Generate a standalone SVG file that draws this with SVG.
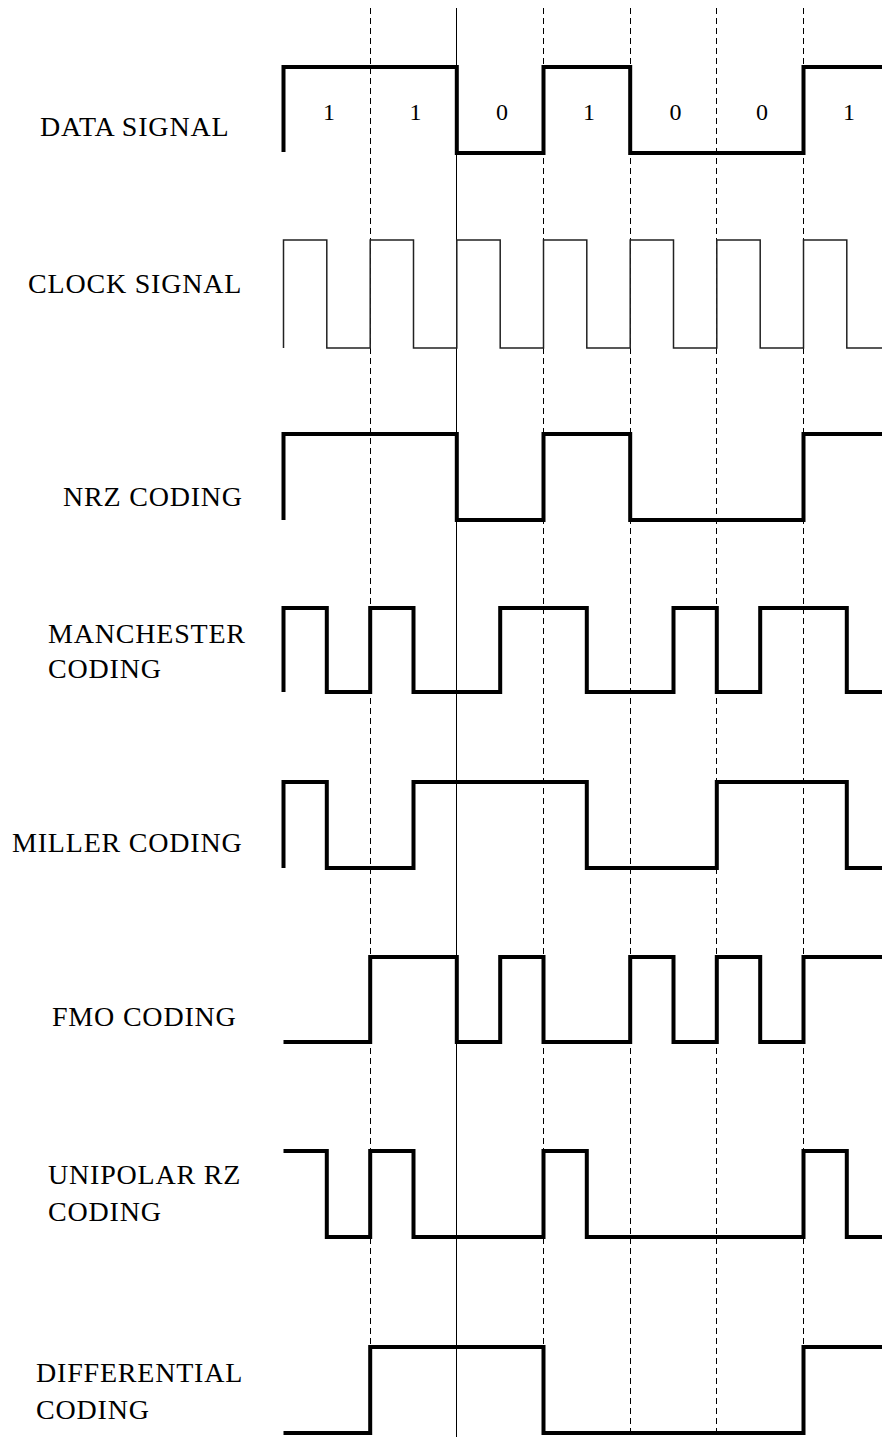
<svg xmlns="http://www.w3.org/2000/svg" width="882" height="1437" viewBox="0 0 882 1437">
<style>
.bg{fill:#ffffff}
.lbl{font-family:"Liberation Serif","Times New Roman",serif;font-size:28px;letter-spacing:0.8px;fill:#000}
.bit{font-family:"Liberation Serif","Times New Roman",serif;font-size:24px;fill:#000;text-anchor:middle}
.sig{fill:none;stroke:#000;stroke-width:4;stroke-linejoin:miter;stroke-linecap:butt}
.clk{fill:none;stroke:#222;stroke-width:1.5}
.dash{stroke:#000;stroke-width:1;stroke-dasharray:6 4}
.solid{stroke:#000;stroke-width:1}
</style>
<rect class="bg" x="0" y="0" width="882" height="1437"/>
<g id="guides">
<line class="dash" x1="370.5" y1="8" x2="370.5" y2="1437"/>
<line class="solid" x1="456.5" y1="8" x2="456.5" y2="1437"/>
<line class="dash" x1="543.5" y1="8" x2="543.5" y2="1437"/>
<line class="dash" x1="630.5" y1="8" x2="630.5" y2="1437"/>
<line class="dash" x1="716.5" y1="8" x2="716.5" y2="1437"/>
<line class="dash" x1="803.5" y1="8" x2="803.5" y2="1437"/>
</g>
<g id="data-signal">
<text class="lbl" x="40" y="136">DATA SIGNAL</text>
<path class="sig" d="M283.5,152 V67 H456.8 V153 H543.5 V67 H630.2 V153 H803.5 V67 H882"/>
<text class="bit" x="329" y="120">1</text>
<text class="bit" x="415.5" y="120">1</text>
<text class="bit" x="502" y="120">0</text>
<text class="bit" x="589" y="120">1</text>
<text class="bit" x="675.5" y="120">0</text>
<text class="bit" x="762" y="120">0</text>
<text class="bit" x="849" y="120">1</text>
</g>
<g id="clock-signal">
<text class="lbl" x="28" y="293">CLOCK SIGNAL</text>
<path class="clk" d="M283.5,348 V240 H326.8 V348 H370.2 V240 H413.5 V348 H456.8 V240 H500.2 V348 H543.5 V240 H586.8 V348 H630.2 V240 H673.5 V348 H716.8 V240 H760.2 V348 H803.5 V240 H846.8 V348 H882"/>
</g>
<g id="nrz-coding">
<text class="lbl" x="63" y="506">NRZ CODING</text>
<path class="sig" d="M283.5,520 V434 H456.8 V520 H543.5 V434 H630.2 V520 H803.5 V434 H882"/>
</g>
<g id="manchester-coding">
<text class="lbl" x="48" y="643">MANCHESTER</text>
<text class="lbl" x="48" y="678">CODING</text>
<path class="sig" d="M283.5,692 V608 H326.8 V692 H370.2 V608 H413.5 V692 H500.2 V608 H586.8 V692 H673.5 V608 H716.8 V692 H760.2 V608 H846.8 V692 H882"/>
</g>
<g id="miller-coding">
<text class="lbl" x="12" y="852">MILLER CODING</text>
<path class="sig" d="M283.5,868 V782 H326.8 V868 H413.5 V782 H586.8 V868 H716.8 V782 H846.8 V868 H882"/>
</g>
<g id="fmo-coding">
<text class="lbl" x="52" y="1026">FMO CODING</text>
<path class="sig" d="M283.5,1042 H370.2 V957 H456.8 V1042 H500.2 V957 H543.5 V1042 H630.2 V957 H673.5 V1042 H716.8 V957 H760.2 V1042 H803.5 V957 H882"/>
</g>
<g id="unipolar-rz-coding">
<text class="lbl" x="48" y="1184">UNIPOLAR RZ</text>
<text class="lbl" x="48" y="1221">CODING</text>
<path class="sig" d="M283.5,1151 H326.8 V1237 H370.2 V1151 H413.5 V1237 H543.5 V1151 H586.8 V1237 H803.5 V1151 H846.8 V1237 H882"/>
</g>
<g id="differential-coding">
<text class="lbl" x="36" y="1382">DIFFERENTIAL</text>
<text class="lbl" x="36" y="1419">CODING</text>
<path class="sig" d="M283.5,1433 H370.2 V1347 H543.5 V1433 H803.5 V1347 H882"/>
</g>
</svg>
